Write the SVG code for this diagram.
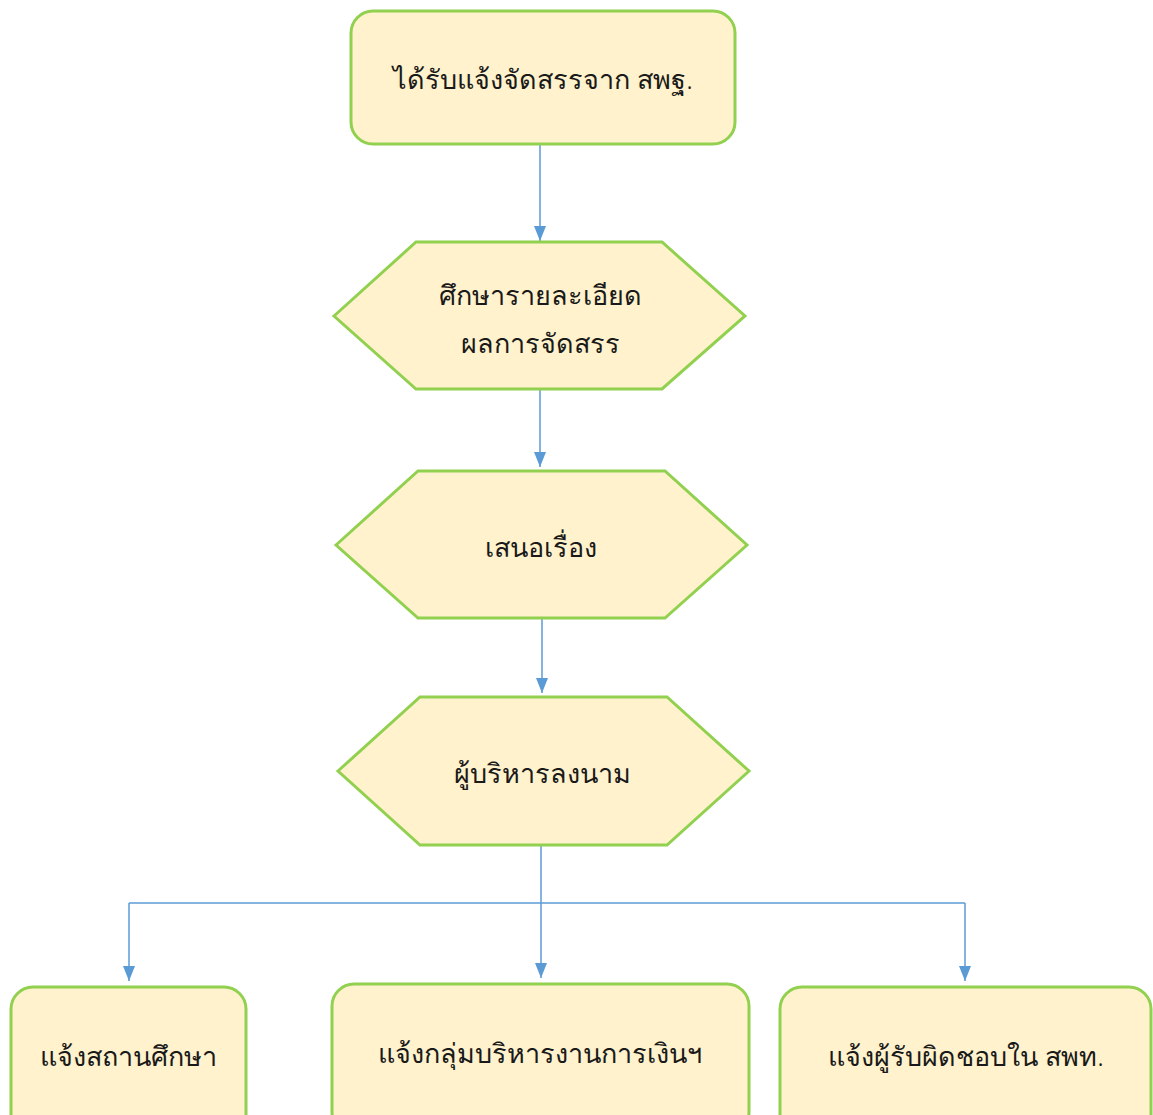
<svg xmlns="http://www.w3.org/2000/svg" width="1153" height="1115" viewBox="0 0 1153 1115">
<defs>
<style>
.n{fill:#FFF2CC;stroke:#92D050;stroke-width:3}
.t{font-family:"Noto Sans","DejaVu Sans",sans-serif;font-size:27px;font-weight:300;fill:#1a1a1a;text-anchor:middle}
.c{stroke:#5B9BD5;stroke-width:1.5;fill:none}
</style>
<marker id="b" markerWidth="15" markerHeight="12" refX="15" refY="6" orient="auto" markerUnits="userSpaceOnUse" viewBox="0 0 15 12">
<path d="M0,0 L15,6 L0,12 Z" fill="#5B9BD5"/>
</marker>
</defs>
<rect width="1153" height="1115" fill="#fff"/>
<g id="connectors">
<line class="c" x1="540" y1="144" x2="540" y2="241" marker-end="url(#b)"/>
<line class="c" x1="540" y1="389" x2="540" y2="467" marker-end="url(#b)"/>
<line class="c" x1="542" y1="618" x2="542" y2="693" marker-end="url(#b)"/>
<line class="c" x1="541" y1="845" x2="541" y2="978" marker-end="url(#b)"/>
<line class="c" x1="129" y1="903" x2="965" y2="903"/>
<line class="c" x1="129" y1="903" x2="129" y2="981" marker-end="url(#b)"/>
<line class="c" x1="965" y1="903" x2="965" y2="981" marker-end="url(#b)"/>
</g>
<g id="n1">
<rect class="n" x="351" y="11" width="384" height="133" rx="22"/>
<text class="t" x="543" y="89">ได้รับแจ้งจัดสรรจาก สพฐ.</text>
</g>
<g id="n2">
<polygon class="n" points="334,316 416,242 662,242 745,316 662,389 416,389"/>
<text class="t" x="540" y="305">ศึกษารายละเอียด</text>
<text class="t" x="540" y="353">ผลการจัดสรร</text>
</g>
<g id="n3">
<polygon class="n" points="336,545 418,471 665,471 747,545 665,618 418,618"/>
<text class="t" x="541" y="557">เสนอเรื่อง</text>
</g>
<g id="n4">
<polygon class="n" points="338,771 420,697 667,697 749,771 667,845 420,845"/>
<text class="t" x="542" y="783">ผู้บริหารลงนาม</text>
</g>
<g id="n5">
<rect class="n" x="11" y="987" width="235" height="150" rx="22"/>
<text class="t" x="128" y="1066">แจ้งสถานศึกษา</text>
</g>
<g id="n6">
<rect class="n" x="332" y="984" width="417" height="150" rx="22"/>
<text class="t" x="540" y="1063">แจ้งกลุ่มบริหารงานการเงินฯ</text>
</g>
<g id="n7">
<rect class="n" x="780" y="987" width="371" height="150" rx="22"/>
<text class="t" x="966" y="1066">แจ้งผู้รับผิดชอบใน สพท.</text>
</g>
</svg>
